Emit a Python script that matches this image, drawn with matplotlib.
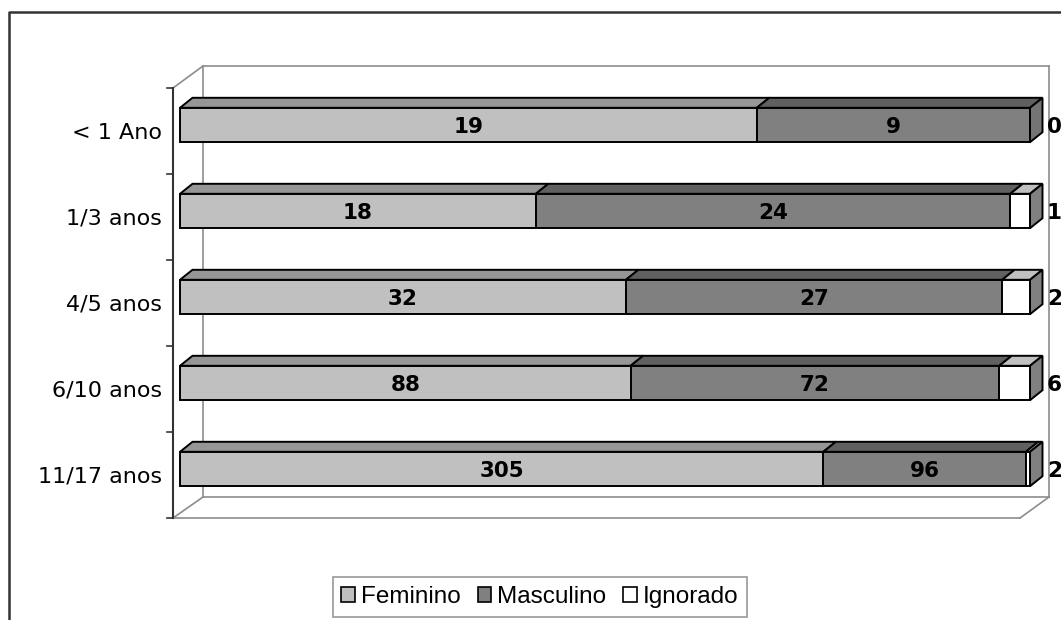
import matplotlib
matplotlib.use("Agg")
import matplotlib.pyplot as plt
import matplotlib.transforms as mtransforms
from matplotlib.patches import Polygon, Patch
from matplotlib.lines import Line2D
import numpy as np

# Data (100% stacked, counts shown as labels)
categories = ['< 1 Ano', '1/3 anos', '4/5 anos', '6/10 anos', '11/17 anos']
feminino = [19, 18, 32, 88, 305]
masculino = [9, 24, 27, 72, 96]
ignorado = [0, 1, 2, 6, 2]
series_names = ['Feminino', 'Masculino', 'Ignorado']

front_colors = ['#c0c0c0', '#808080', '#ffffff']
top_colors = ['#969696', '#606060', '#c0c0c0']
side_colors = ['#a0a0a0', '#747474', '#808080']
wall_color = '#8c8c8c'

W, H = 1061, 620
fig = plt.figure(figsize=(W / 100, H / 100), dpi=100)

# the axes is the plane of the bar front faces: x share 0..1, one row per category
ax = fig.add_axes([180 / W, (H - 512) / H, 850 / W, 430 / H])
XPX, YPX = 850.0, 86.0   # pixels per data unit


def px(dx, dy):
    return dx / XPX, dy / YPX


values = np.array([feminino, masculino, ignorado], dtype=float)
totals = values.sum(axis=0)
shares = values / totals
lefts = np.vstack([np.zeros(len(categories)), np.cumsum(shares, axis=0)[:-1]])
ypos = np.arange(len(categories))
bar_h = 0.4
ddx, ddy = px(12.5, -10)   # depth of the bars

ax.set_xlim(0, 1)
ax.set_ylim(len(categories) - 0.5, -0.5)

# walls and floor (front plane / back plane of the fake 3d box)
flx, _ = px(-7, 0)
frx = 1 + px(-10, 0)[0]
blx = px(23, 0)[0]
brx = 1 + px(19, 0)[0]
f_top = -0.5 + px(0, 6)[1]
f_bot = len(categories) - 0.5 + px(0, 6)[1]
b_top = -0.5 + px(0, -16)[1]
b_bot = len(categories) - 0.5 + px(0, -15)[1]

wall_lines = [
    ([blx, brx], [b_top, b_top]),
    ([brx, brx], [b_top, b_bot]),
    ([blx, blx], [b_top, b_bot]),
    ([blx, brx], [b_bot, b_bot]),
    ([flx, frx], [f_bot, f_bot]),
    ([flx, blx], [f_bot, b_bot]),
    ([frx, brx], [f_bot, b_bot]),
    ([flx, blx], [f_top, b_top]),
]
for xs, ys in wall_lines:
    ax.plot(xs, ys, color=wall_color, lw=1.2, clip_on=False, zorder=1)

ax.plot([flx, flx], [f_top, f_bot], color='#333333', lw=1.5, clip_on=False, zorder=2)
tick_len = px(6, 0)[0]
for yt in np.arange(-0.5, len(categories), 1.0) + px(0, 6)[1]:
    ax.plot([flx - tick_len, flx], [yt, yt], color='#333333', lw=1.2, clip_on=False, zorder=2)

# bars: top faces, right face, then front faces
for k in range(3):
    for i in ypos:
        if shares[k, i] == 0:
            continue
        l = lefts[k, i]
        r = l + shares[k, i]
        t = i - bar_h / 2
        top = Polygon([(l, t), (r, t), (r + ddx, t + ddy), (l + ddx, t + ddy)],
                      closed=True, facecolor=top_colors[k], edgecolor='black',
                      lw=1.4, clip_on=False, zorder=3)
        ax.add_patch(top)

for i in ypos:
    last = max(k for k in range(3) if shares[k, i] > 0)
    t = i - bar_h / 2
    b = i + bar_h / 2
    side = Polygon([(1, t), (1 + ddx, t + ddy), (1 + ddx, b + ddy), (1, b)],
                   closed=True, facecolor=side_colors[last], edgecolor='black',
                   lw=1.4, clip_on=False, zorder=3)
    ax.add_patch(side)

for k in range(3):
    ax.barh(ypos, shares[k], left=lefts[k], height=bar_h, color=front_colors[k],
            edgecolor='black', linewidth=1.4, zorder=4, clip_on=False)

# value labels
for k in range(2):
    for i in ypos:
        ax.text(lefts[k, i] + shares[k, i] / 2, i, str(int(values[k, i])),
                ha='center', va='center_baseline', fontsize=15.5,
                fontweight='bold', zorder=5)

right_trans = mtransforms.offset_copy(ax.transData, fig=fig, x=17, y=0, units='dots')
for i in ypos:
    ax.text(1, i, str(int(values[2, i])), transform=right_trans, ha='left',
            va='center_baseline', fontsize=15.5, fontweight='bold', clip_on=False)

# category labels on the front plane
ax.set_xticks([])
ax.set_yticks(ypos)
ax.set_yticklabels(categories, fontsize=16)
ax.tick_params(axis='y', length=0, pad=13)
shift = mtransforms.ScaledTranslation(0, -6 / 100, fig.dpi_scale_trans)
for lab in ax.get_yticklabels():
    lab.set_transform(lab.get_transform() + shift)
for s in ax.spines.values():
    s.set_visible(False)

# legend
handles = [Patch(facecolor=c, edgecolor='black', linewidth=1.2) for c in front_colors]
leg = fig.legend(handles, series_names, loc='center', bbox_to_anchor=(540 / W, 1 - 597 / H),
                 ncol=3, frameon=True, fancybox=False, edgecolor='#808080',
                 prop={'family': 'Liberation Sans', 'size': 17.5},
                 handlelength=0.56, handleheight=0.56, handletextpad=0.25,
                 columnspacing=0.7, borderpad=0.35)
leg.get_frame().set_linewidth(1.2)

# outer chart-area border (only left and top visible)
fig.add_artist(Line2D([9 / W, 9 / W, 1], [0, 1 - 12 / H, 1 - 12 / H],
                      transform=fig.transFigure, color='#333333', lw=1.8))

fig.savefig('out.png', dpi=100)
